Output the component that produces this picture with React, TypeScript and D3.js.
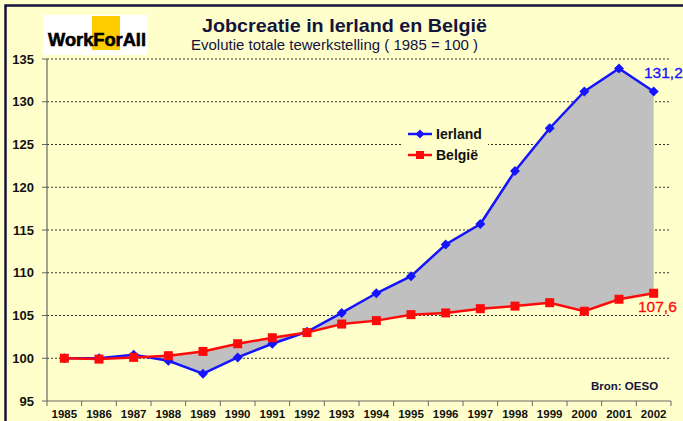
import * as d3 from 'd3'

const years = ['1985', '1986', '1987', '1988', '1989', '1990', '1991', '1992', '1993',
    '1994', '1995', '1996', '1997', '1998', '1999', '2000', '2001', '2002']
const ierland = [100, 100.0, 100.4, 99.7, 98.2, 100.1, 101.7, 103.1, 105.3,
    107.6, 109.6, 113.3, 115.7, 121.9, 126.9, 131.2, 133.9, 131.2]
const belgie = [100, 99.9, 100.1, 100.3, 100.8, 101.7, 102.4, 103.0, 104.0,
    104.4, 105.1, 105.3, 105.8, 106.1, 106.5, 105.5, 106.9, 107.6]
const yTicks = [95, 100, 105, 110, 115, 120, 125, 130, 135]

const W = 683
const H = 421
const BLUE = '#1414ff'
const RED = '#ff0a0a'
const NAVY = '#14143c'

const App = () => {
    const x = d3.scaleBand<string>().domain(years).range([47, 671]).padding(0)
    const y = d3.scaleLinear().domain([95, 135]).range([401, 59])
    const cx = (i: number) => (x(years[i]) as number) + x.bandwidth() / 2

    const area = d3.area<number>()
        .x((_, i) => cx(i))
        .y0((_, i) => y(belgie[i]))
        .y1(d => y(d))
    const line = d3.line<number>()
        .x((_, i) => cx(i))
        .y(d => y(d))

    const diamond = (px: number, py: number, r: number) =>
        `M${px},${py - r} L${px + r},${py} L${px},${py + r} L${px - r},${py} Z`

    const font = 'Arial, "Liberation Sans", sans-serif'

    return (
        <svg width={W} height={H} style={{ position: 'absolute', left: 0, top: 0 }} fontFamily={font}>
            <rect x={0} y={0} width={W} height={H} fill='#ffffcc' />
            <rect x={5.5} y={5.5} width={W + 20} height={H + 20} fill='none' stroke={NAVY} strokeWidth={2.5} />

            {/* logo */}
            <rect x={43} y={15} width={104} height={40} fill='#ffffff' />
            <rect x={92} y={16} width={28} height={34} fill='#ffcc00' />
            <text x={48} y={46} fontSize={18} fontWeight='900' fill='#000' textLength={98}
                lengthAdjust='spacingAndGlyphs' stroke='#000' strokeWidth={0.6}>WorkForAll</text>

            {/* titles */}
            <text x={344.5} y={32} textAnchor='middle' fontSize={19} fontWeight='bold' fill={NAVY}
                textLength={285} lengthAdjust='spacingAndGlyphs'>
                Jobcreatie in Ierland en België</text>
            <text x={334.5} y={50} textAnchor='middle' fontSize={14.5} fill={NAVY}
                textLength={287} lengthAdjust='spacingAndGlyphs'>
                Evolutie totale tewerkstelling ( 1985 = 100 )</text>

            {/* gridlines */}
            {yTicks.slice(1).map(t => (
                <line key={t} x1={47} x2={671} y1={y(t)} y2={y(t)} stroke='#333' strokeWidth={1}
                    strokeDasharray='2,2' />
            ))}

            <path d={area(ierland) as string} fill='#c0c0c0' />

            {/* axes */}
            <line x1={47} x2={47} y1={59} y2={401} stroke='#666' strokeWidth={1.2} />
            <line x1={47} x2={671} y1={401} y2={401} stroke='#666' strokeWidth={1.2} />
            {yTicks.map(t => (
                <g key={t}>
                    <line x1={42} x2={47} y1={y(t)} y2={y(t)} stroke='#666' />
                    <text x={34} y={y(t)} dy='0.35em' textAnchor='end' fontSize={13} fontWeight='bold'
                        fill='#111'>{t}</text>
                </g>
            ))}
            {years.map((yr, i) => (
                <g key={yr}>
                    <line x1={x(yr)} x2={x(yr)} y1={401} y2={406} stroke='#666' />
                    <text x={cx(i)} y={418} textAnchor='middle' fontSize={11.5} fontWeight='bold'
                        fill='#111'>{yr}</text>
                </g>
            ))}
            <line x1={671} x2={671} y1={401} y2={406} stroke='#666' />

            {/* series */}
            <path d={line(ierland) as string} fill='none' stroke={BLUE} strokeWidth={2.5} />
            <path d={line(belgie) as string} fill='none' stroke={RED} strokeWidth={2.5} />
            {ierland.map((v, i) => (
                <path key={'i' + i} d={diamond(cx(i), y(v), 5)} fill={BLUE} />
            ))}
            {belgie.map((v, i) => (
                <rect key={'b' + i} x={cx(i) - 4.5} y={y(v) - 4.5} width={9} height={9} fill={RED} />
            ))}

            {/* value labels */}
            <text x={644} y={78} fontSize={15.5} fill={BLUE} stroke={BLUE} strokeWidth={0.3}>131,2</text>
            <text x={638} y={312} fontSize={15.5} fill={RED} stroke={RED} strokeWidth={0.3}>107,6</text>

            {/* legend */}
            <rect x={403} y={121} width={85} height={46} fill='#ffffcc' />
            <line x1={408} x2={432} y1={134} y2={134} stroke={BLUE} strokeWidth={2.5} />
            <path d={diamond(420, 134, 4.5)} fill={BLUE} />
            <text x={436} y={134} dy='0.35em' fontSize={14} fontWeight='bold' fill='#111'>Ierland</text>
            <line x1={408} x2={432} y1={155} y2={155} stroke={RED} strokeWidth={2.5} />
            <rect x={416} y={151} width={8} height={8} fill={RED} />
            <text x={436} y={155} dy='0.35em' fontSize={14} fontWeight='bold' fill='#111'>België</text>

            <text x={591} y={390} fontSize={11.5} fontWeight='bold' fill={NAVY}>Bron: OESO</text>
        </svg>
    )
}

export default App
